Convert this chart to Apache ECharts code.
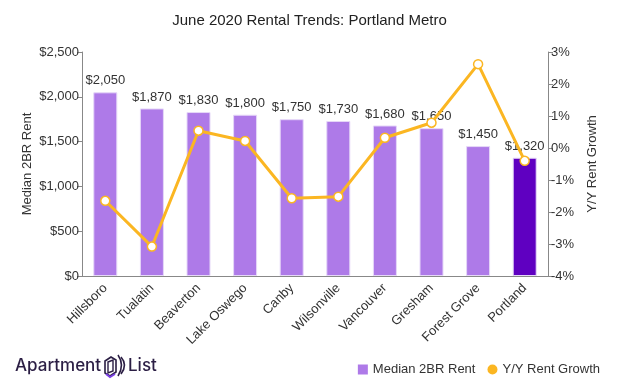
<!DOCTYPE html>
<html>
<head>
<meta charset="utf-8">
<script src="https://cdn.jsdelivr.net/npm/echarts@6/dist/echarts.min.js"></script>
<style>html,body{margin:0;padding:0;background:#fff}#c{width:619px;height:383px}</style>
</head>
<body>
<div id="c"></div>
<script>
const cities = ["Hillsboro","Tualatin","Beaverton","Lake Oswego","Canby","Wilsonville","Vancouver","Gresham","Forest Grove","Portland"];
const rent = [2050,1870,1830,1800,1750,1730,1680,1650,1450,1320];
const growth = [-1.65,-3.08,0.54,0.22,-1.57,-1.52,0.32,0.79,2.62,-0.40];
const rentTicks = [0,500,1000,1500,2000,2500];
const growthTicks = [-4,-3,-2,-1,0,1,2,3];

const FONT = "'Liberation Sans', Arial, sans-serif";
const LIGHT = '#AE7AE8';
const DARK = '#5F00C1';
const ORANGE = '#FBB622';
const AXIS = '#888';
const TXT = '#333';
const LOGO = '#2B1E44';

const fmtMoney = v => '$' + v.toLocaleString('en-US');

const chart = echarts.init(document.getElementById('c'), null, {renderer: 'canvas'});
chart.setOption({
  animation: false,
  textStyle: {fontFamily: FONT},
  title: {
    text: 'June 2020 Rental Trends: Portland Metro',
    left: 'center', top: 8,
    textStyle: {fontFamily: FONT, fontSize: 15, fontWeight: 'normal', color: '#222'}
  },
  legend: {
    right: 14, top: 358,
    itemGap: 12, itemWidth: 10, itemHeight: 10,
    textStyle: {fontFamily: FONT, fontSize: 13, color: TXT},
    data: [
      {name: 'Median 2BR Rent', icon: 'rect', itemStyle: {color: LIGHT}},
      {name: 'Y/Y Rent Growth', icon: 'circle', itemStyle: {color: ORANGE, borderWidth: 0}}
    ]
  },
  grid: {left: 82, right: 71, top: 52, bottom: 107},
  xAxis: {
    type: 'category',
    data: cities,
    axisLine: {lineStyle: {color: AXIS}},
    axisTick: {alignWithLabel: true, lineStyle: {color: AXIS}, length: 5},
    axisLabel: {rotate: 45, fontSize: 13, color: TXT, fontFamily: FONT, margin: 10, interval: 0}
  },
  yAxis: [
    {
      type: 'value', min: rentTicks[0], max: rentTicks[rentTicks.length-1], interval: 500,
      name: 'Median 2BR Rent', nameLocation: 'middle', nameGap: 48, nameRotate: 90,
      nameMoveOverlap: false,
      nameTextStyle: {fontSize: 13, color: TXT, fontFamily: FONT},
      axisLine: {show: true, lineStyle: {color: AXIS}},
      axisTick: {show: true, length: 5, lineStyle: {color: AXIS}},
      splitLine: {show: false},
      axisLabel: {formatter: v => fmtMoney(v), fontSize: 13, color: TXT, fontFamily: FONT, margin: 3}
    },
    {
      type: 'value', min: growthTicks[0], max: growthTicks[growthTicks.length-1], interval: 1,
      name: 'Y/Y Rent Growth', nameLocation: 'middle', nameGap: 38, nameRotate: 90,
      nameMoveOverlap: false,
      nameTextStyle: {fontSize: 13, color: TXT, fontFamily: FONT},
      position: 'right',
      axisLine: {show: true, lineStyle: {color: AXIS}},
      axisTick: {show: true, length: 5, lineStyle: {color: AXIS}},
      splitLine: {show: false},
      axisLabel: {formatter: v => v + '%', fontSize: 13, color: TXT, fontFamily: FONT, margin: 3}
    }
  ],
  series: [
    {
      name: 'Median 2BR Rent',
      type: 'bar',
      yAxisIndex: 0,
      barWidth: 24,
      data: rent.map((v, i) => ({
        value: v,
        itemStyle: {color: cities[i] === 'Portland' ? DARK : LIGHT, borderColor: '#E6D8F8', borderWidth: 1}
      })),
      label: {show: true, position: 'top', distance: 5, formatter: p => fmtMoney(p.value), fontSize: 13, color: TXT, fontFamily: FONT},
      z: 1
    },
    {
      name: 'Y/Y Rent Growth',
      type: 'line',
      yAxisIndex: 1,
      data: growth,
      symbol: 'circle',
      symbolSize: 9,
      showAllSymbol: true,
      lineStyle: {color: ORANGE, width: 3},
      itemStyle: {color: '#fff', borderColor: ORANGE, borderWidth: 1.5},
      z: 3
    }
  ],
  graphic: [
    {type: 'text', x: 15, y: 357, style: {text: 'Apartment', font: "500 17px Inter, 'Noto Sans', sans-serif", fill: LOGO}},
    {type: 'polygon', shape: {points: [[105,361],[111,357],[116,360],[116,372],[110,376],[105,373]]}, style: {fill: 'none', stroke: LOGO, lineWidth: 1.6}},
    {type: 'polygon', shape: {points: [[108,362],[113,360],[113,371],[108,373]]}, style: {fill: 'none', stroke: LOGO, lineWidth: 1.4}},
    {type: 'polyline', shape: {points: [[106,374],[110,377],[115,374]]}, style: {fill: 'none', stroke: '#7B3FE4', lineWidth: 2}},
    {type: 'bezierCurve', shape: {x1: 118, y1: 355, cpx1: 125, cpy1: 365, x2: 118, y2: 376}, style: {fill: 'none', stroke: LOGO, lineWidth: 1.6}},
    {type: 'bezierCurve', shape: {x1: 121, y1: 357, cpx1: 128, cpy1: 365, x2: 121, y2: 374}, style: {fill: 'none', stroke: LOGO, lineWidth: 1.6}},
    {type: 'text', x: 128, y: 357, style: {text: 'List', font: "500 17px Inter, 'Noto Sans', sans-serif", fill: LOGO}}
  ]
});
</script>
</body>
</html>
